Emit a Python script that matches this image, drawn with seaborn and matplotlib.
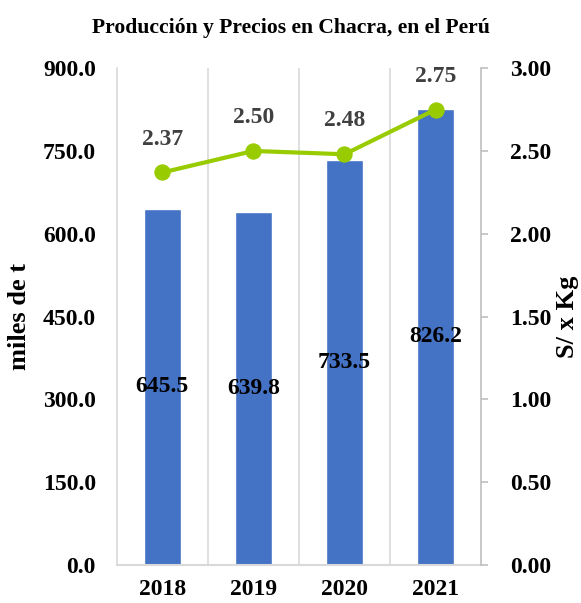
import matplotlib
matplotlib.use("Agg")
import matplotlib.pyplot as plt
import seaborn as sns
import pandas as pd

years = ["2018", "2019", "2020", "2021"]
produccion = [645.5, 639.8, 733.5, 826.2]
precios = [2.37, 2.50, 2.48, 2.75]
left_ticks = [0, 150, 300, 450, 600, 750, 900]
right_ticks = [0.0, 0.5, 1.0, 1.5, 2.0, 2.5, 3.0]

sns.set_theme(style="white")
plt.rcParams['font.family'] = ['Liberation Serif', 'DejaVu Serif']
plt.rcParams['font.weight'] = 'bold'
plt.rcParams['text.color'] = 'black'
plt.rcParams['axes.labelcolor'] = 'black'
plt.rcParams['xtick.labelcolor'] = 'black'
plt.rcParams['ytick.labelcolor'] = 'black'

df = pd.DataFrame({"year": years, "prod": produccion, "price": precios})

fig = plt.figure(figsize=(5.81, 6.03), dpi=100)
ax = fig.add_axes([0.201, 0.063, 0.627, 0.824])
bar_color = "#4472C4"
line_color = "#99CC00"
grid_color = "#D9D9D9"
FS = 17

sns.barplot(data=df, x="year", y="prod", ax=ax, color=bar_color, width=0.4,
            saturation=1, zorder=2)
ax.set_xlim(-0.5, 3.5)
ax.set_ylim(0, 900)
ax.set_yticks(left_ticks)
ax.set_yticklabels([f"{v:.1f}" for v in left_ticks], fontsize=FS, fontweight='bold')
ax.set_xticks(range(len(years)))
ax.set_xticklabels(years, fontsize=FS, fontweight='bold')
ax.tick_params(axis='y', length=0, pad=15, labelcolor='black')
ax.tick_params(axis='x', length=0, pad=10, labelcolor='black')
ax.set_xlabel("")
ax.set_ylabel("miles de t", fontsize=19, fontweight='bold', va='center', color='black')
ax.yaxis.set_label_coords(-0.267, 0.5)

# vertical gridlines at category boundaries
for b in [0.5, 1.5, 2.5]:
    ax.axvline(b, color=grid_color, lw=1.2, zorder=0)
for s in ["top", "right"]:
    ax.spines[s].set_visible(False)
ax.spines["left"].set_color(grid_color)
ax.spines["left"].set_linewidth(1.2)
ax.spines["bottom"].set_color(grid_color)
ax.spines["bottom"].set_linewidth(1.5)

for i, v in enumerate(produccion):
    ax.text(i, v / 2, f"{v:.1f}", ha="center", va="center", fontsize=FS,
            fontweight='bold', color="black", zorder=5)

ax2 = ax.twinx()
sns.lineplot(data=df, x="year", y="price", ax=ax2, color=line_color, lw=3,
             marker="o", markersize=11, markeredgecolor=line_color, zorder=4)
ax2.set_ylim(0, 3)
ax2.set_yticks(right_ticks)
ax2.set_yticklabels([f"{v:.2f}" for v in right_ticks], fontsize=FS, fontweight='bold')
ax2.tick_params(axis='y', length=5, color="#BFBFBF", width=1.2, pad=16,
                direction='out', labelcolor='black')
ax2.set_ylabel("S/ x Kg", fontsize=19, fontweight='bold', va='center', color='black')
ax2.yaxis.set_label_coords(1.237, 0.5)
ax2.set_xlabel("")
for s in ["top", "left", "bottom"]:
    ax2.spines[s].set_visible(False)
ax2.spines["right"].set_color("#BFBFBF")
ax2.spines["right"].set_linewidth(1.2)
ax2.set_xlim(-0.5, 3.5)

for i, v in enumerate(precios):
    ax2.annotate(f"{v:.2f}", (i, v), xytext=(0, 20), textcoords="offset points",
                 ha="center", va="baseline", fontsize=FS, fontweight='bold',
                 color="#404040")

fig.suptitle("Producción y Precios en Chacra, en el Perú", fontsize=15.6,
             fontweight='bold', y=0.97, color='black')

fig.savefig("out.png", dpi=100)
